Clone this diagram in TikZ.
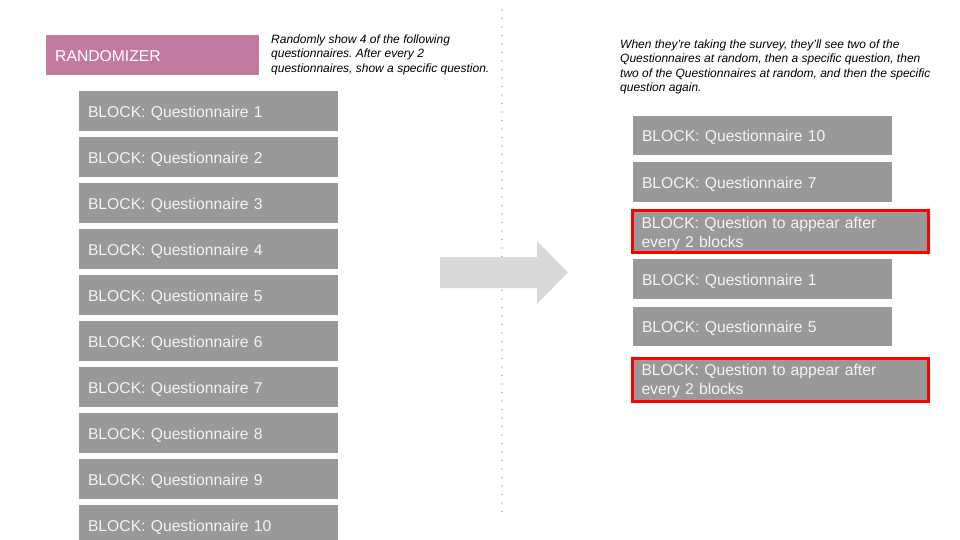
\documentclass[tikz,border=0pt]{standalone}
\usepackage{fontspec}
\setmainfont{Liberation Sans}
\usepackage{xcolor}
\definecolor{blockgray}{HTML}{999999}
\definecolor{blocktext}{HTML}{F3F3F3}
\definecolor{randpink}{HTML}{C27BA0}
\definecolor{arrowgray}{HTML}{D9D9D9}
\definecolor{dotgray}{HTML}{B7B7B7}
\usepackage{tikz}
\usetikzlibrary{positioning}
\frenchspacing

\begin{document}
\begin{tikzpicture}[x=1pt, y=-1pt, node distance=6pt, block/.style = {fill=blockgray, text=blocktext, minimum width=259pt, minimum height=40pt, inner xsep=9pt, inner ysep=0pt, outer sep=0pt, text width=241pt, text height=12.6pt, text depth=0pt, align=left, font=\fontsize{15.7}{18.5}\selectfont}, picked/.style = {block, draw=red, line width=3pt, outer sep=1.5pt, minimum width=296pt, text width=278pt, text depth=18pt}, note/.style = {inner sep=0pt, align=left, anchor=north west, font=\itshape\fontsize{12}{14.5}\selectfont}]

\useasboundingbox (0,0) rectangle (960,540);
\clip (0,0) rectangle (960,540);

\coordinate (divtop) at (502,10);
\coordinate (divbot) at (502,517);
\draw[dotgray, line width=1.6pt, line cap=round, dash pattern=on 0pt off 8.5pt] (divtop) -- (divbot);

\node[anchor=north west, fill=randpink, text=white, minimum width=213pt, minimum height=40pt, inner xsep=9pt, inner ysep=0pt, text width=195pt, text height=12.6pt, text depth=0pt, align=left, font=\fontsize{15.7}{18.5}\selectfont] (rand) at (46,35) {RANDOMIZER};
\node[note] (ranote) at (271,34.5) {Randomly show 4 of the following\\questionnaires. After every 2\\questionnaires, show a specific question.};

\node[block, anchor=north west] (q1) at (79,91) {BLOCK: Questionnaire 1};
\node[block, below=of q1] (q2) {BLOCK: Questionnaire 2};
\node[block, below=of q2] (q3) {BLOCK: Questionnaire 3};
\node[block, below=of q3] (q4) {BLOCK: Questionnaire 4};
\node[block, below=of q4] (q5) {BLOCK: Questionnaire 5};
\node[block, below=of q5] (q6) {BLOCK: Questionnaire 6};
\node[block, below=of q6] (q7) {BLOCK: Questionnaire 7};
\node[block, below=of q7] (q8) {BLOCK: Questionnaire 8};
\node[block, below=of q8] (q9) {BLOCK: Questionnaire 9};
\node[block, below=of q9] (q10) {BLOCK: Questionnaire 10};

\fill[arrowgray] (440,257) -- (537,257) -- (537,241) -- (568,272.5) -- (537,304) -- (537,288) -- (440,288) -- cycle;

\node[note] (surveynote) at (620,39.5) {When they’re taking the survey, they’ll see two of the\\Questionnaires at random, then a specific question, then\\two of the Questionnaires at random, and then the specific\\question again.};

\node[block, anchor=north west, minimum height=39pt] (s1) at (633,116) {BLOCK: Questionnaire 10};
\node[block, anchor=north west] (s2) at (633,162) {BLOCK: Questionnaire 7};
\node[picked, anchor=north west, minimum height=42pt] (s3) at (631,209) {BLOCK: Question to appear after\\every 2 blocks};
\node[block, anchor=north west] (s4) at (633,259) {BLOCK: Questionnaire 1};
\node[block, anchor=north west, minimum height=39pt] (s5) at (633,307) {BLOCK: Questionnaire 5};
\node[picked, anchor=north west, minimum height=43pt, text depth=21pt] (s6) at (631,357) {BLOCK: Question to appear after\\every 2 blocks};
\end{tikzpicture}
\end{document}
